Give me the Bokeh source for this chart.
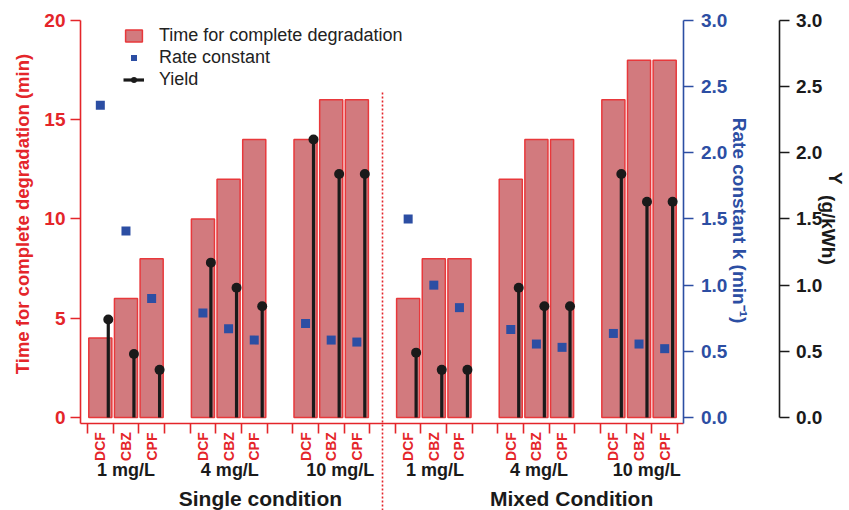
import numpy as np
from bokeh.plotting import figure
from bokeh.models import (Range1d, LinearAxis, FixedTicker, NumeralTickFormatter, Legend,
                          LegendItem, ColumnDataSource, LabelSet, Label, Arrow)
from bokeh.embed import file_html
from bokeh.resources import INLINE
from bokeh.core.properties import value

# ---------------- data ----------------
compounds = ["DCF", "CBZ", "CPF"]
concentrations = ["1 mg/L", "4 mg/L", "10 mg/L"]
conditions = ["Single condition", "Mixed Condition"]

# order inside each condition: 1 mg/L (DCF, CBZ, CPF), 4 mg/L (...), 10 mg/L (...)
time_single = [4, 6, 8, 10, 12, 14, 14, 16, 16]
time_mixed = [6, 8, 8, 12, 14, 14, 16, 18, 18]
rate_single = [2.36, 1.41, 0.90, 0.79, 0.67, 0.585, 0.71, 0.585, 0.57]
rate_mixed = [1.50, 1.00, 0.83, 0.665, 0.555, 0.53, 0.635, 0.555, 0.52]
yield_single = [0.74, 0.48, 0.36, 1.17, 0.98, 0.84, 2.10, 1.84, 1.84]
yield_mixed = [0.49, 0.36, 0.36, 0.98, 0.84, 0.84, 1.84, 1.63, 1.63]

time_ticks = [0, 5, 10, 15, 20]
right_ticks = [0, 0.5, 1.0, 1.5, 2.0, 2.5, 3.0]

# ---------------- styling ----------------
FONT = "Liberation Sans"
RED = "#e4252a"
BAR_FILL = "#d27a7e"
BAR_LINE = "#e8383b"
BLUE = "#2c4ea3"
BLACK = "#1a1a1a"

times = time_single + time_mixed
rates = rate_single + rate_mixed
ylds = yield_single + yield_mixed
n = len(times)
group_idx = [i // 3 for i in range(n)]
bar_idx = [i % 3 for i in range(n)]
xc = [g * 4 + b + 0.5 for g, b in zip(group_idx, bar_idx)]
stem_off = 0.31
xs = [x + stem_off for x in xc]
labels = [compounds[b] for b in bar_idx]
n_slots = 24

src = ColumnDataSource(dict(x=xc, xs=xs, time=times, rate=rates, yld=ylds, lab=labels))

W, H = 849, 510
Y0, Y1 = -4.685, 21.005
K = 3.0 / 20.0
p = figure(width=W, height=H, output_backend="svg", toolbar_location=None,
           x_range=Range1d(-3.3916, 29.705), y_range=Range1d(Y0, Y1),
           min_border_left=0, min_border_right=0, min_border_top=0, min_border_bottom=0)
p.outline_line_color = None
p.xgrid.visible = False
p.ygrid.visible = False
p.background_fill_color = "white"
p.border_fill_color = "white"

p.extra_y_ranges = {"k": Range1d(Y0 * K, Y1 * K), "Y": Range1d(Y0 * K, Y1 * K)}

# ---------- glyphs ----------
bars = p.vbar(x="x", top="time", bottom=0, width=0.9, source=src,
              fill_color=BAR_FILL, line_color=BAR_LINE, line_width=1.5)
rate_r = p.scatter(x="x", y="rate", y_range_name="k", source=src, marker="square",
                   size=9, fill_color=BLUE, line_color=None)
stem_r = p.segment(x0="xs", y0=0, x1="xs", y1="yld", y_range_name="Y", source=src,
                   line_color=BLACK, line_width=3.2)
dot_r = p.scatter(x="xs", y="yld", y_range_name="Y", source=src, marker="circle",
                  size=10, fill_color=BLACK, line_color=None)

# ---------- axes ----------
X_LEFT, X_BLUE, X_BLACK = -0.273, 23.25, 26.957
Y_BASE = -0.30

def style_axis(ax, color, size="19px"):
    ax.axis_line_color = color
    ax.axis_line_width = 1.6
    ax.major_tick_line_color = color
    ax.major_tick_line_width = 1.6
    ax.major_tick_out = 10
    ax.major_tick_in = 0
    ax.minor_tick_line_color = None
    ax.major_label_text_color = color
    ax.major_label_text_font = FONT
    ax.major_label_text_font_style = "bold"
    ax.major_label_text_font_size = size

yl = p.yaxis[0]
style_axis(yl, RED)
yl.ticker = FixedTicker(ticks=time_ticks)
yl.major_label_standoff = 5
yl.fixed_location = X_LEFT
yl.bounds = (Y_BASE, 20)

xa = p.xaxis[0]
style_axis(xa, RED)
xa.ticker = FixedTicker(ticks=[], minor_ticks=list(range(n_slots)))
xa.minor_tick_line_color = RED
xa.minor_tick_line_width = 1.6
xa.minor_tick_out = 10
xa.minor_tick_in = 0
xa.fixed_location = Y_BASE
xa.bounds = (X_LEFT, X_BLUE)

ka = LinearAxis(y_range_name="k")
style_axis(ka, BLUE)
ka.ticker = FixedTicker(ticks=right_ticks)
ka.formatter = NumeralTickFormatter(format="0.0")
ka.major_label_standoff = 7
ka.fixed_location = X_BLUE
ka.bounds = (Y_BASE * K, 3.0)
p.add_layout(ka, "right")

ya = LinearAxis(y_range_name="Y")
style_axis(ya, BLACK)
ya.ticker = FixedTicker(ticks=right_ticks)
ya.formatter = NumeralTickFormatter(format="0.0")
ya.major_label_standoff = 7
ya.fixed_location = X_BLACK
ya.bounds = (0, 3)
p.add_layout(ya, "right")

# ---------- axis titles ----------
def title(x, y, text, color, angle, size="19px"):
    p.add_layout(Label(x=x, y=y, text=text, angle=angle, text_align="center",
                       text_baseline="middle", text_font=FONT, text_font_style="bold",
                       text_font_size=size, text_color=color))

title(-2.534, 10.25, "Time for complete degradation (min)", RED, np.pi / 2, "18.5px")
title(25.417, 9.92, "Rate constant k (min⁻¹)", BLUE, -np.pi / 2)
title(29.17, 12.05, "Y", BLACK, -np.pi / 2)
title(28.886, 9.45, "(g/kWh)", BLACK, -np.pi / 2)

# ---------- category labels below ----------
p.add_layout(LabelSet(x="x", y=-1.461, text="lab", source=src, angle=np.pi / 2,
                      text_align="center", text_baseline="middle",
                      text_font=value(FONT), text_font_style="bold",
                      text_font_size="14px", text_color=RED))

grp_names = concentrations + concentrations
grp_shift = [0.0, 0.05, 0.35, 0.05, 0.1, 0.3]
grp_x = [g * 4 + 1.5 + s for g, s in enumerate(grp_shift)]
gsrc = ColumnDataSource(dict(x=grp_x, t=grp_names))
p.add_layout(LabelSet(x="x", y=-2.67, text="t", source=gsrc,
                      text_align="center", text_baseline="middle",
                      text_font=value(FONT), text_font_style="bold",
                      text_font_size="18px", text_color=BLACK))

cond_x = [6.74, 18.87]
for cx, ct in zip(cond_x, conditions):
    p.add_layout(Label(x=cx, y=-4.08, text=ct, text_align="center", text_baseline="middle",
                       text_font=FONT, text_font_style="bold", text_font_size="21px",
                       text_color=BLACK))

# ---------- dotted separator ----------
p.add_layout(Arrow(end=None, x_start=11.5, y_start=16.37, x_end=11.5, y_end=Y0,
                   line_color=RED, line_dash="2 2", line_width=1.6))

# ---------- legend ----------
legend = Legend(items=[LegendItem(label="Time for complete degradation", renderers=[bars]),
                       LegendItem(label="Rate constant", renderers=[rate_r]),
                       LegendItem(label="Yield", renderers=[stem_r, dot_r])],
                location=(123, 420), orientation="vertical",
                glyph_width=21, glyph_height=15, label_height=21, label_standoff=15,
                spacing=1, padding=0, margin=0,
                border_line_color=None, background_fill_alpha=0,
                label_text_font=FONT, label_text_font_size="18px", label_text_color="#222222")
p.add_layout(legend)

open("out.html", "w").write(file_html(p, INLINE))
